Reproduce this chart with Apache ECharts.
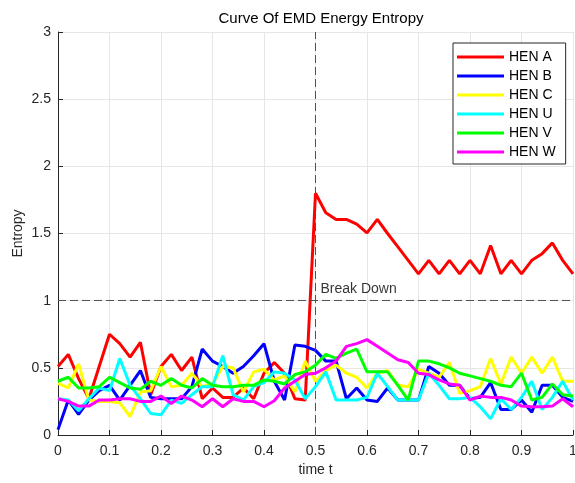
<!DOCTYPE html>
<html>
<head>
<meta charset="utf-8">
<script src="https://cdn.jsdelivr.net/npm/echarts@6/dist/echarts.min.js"></script>
<style>
  html, body { margin: 0; padding: 0; background: #fff; }
  #chart { width: 575px; height: 483px; }
</style>
</head>
<body>
<div id="chart"></div>
<script>
// Sample times: 0, 0.02, ..., 1.00 (51 samples)
const timeStep = 0.02;
const sampleCount = 51;

const henA = [0.51, 0.60, 0.42, 0.27, 0.51, 0.75, 0.68, 0.58, 0.69, 0.30, 0.51, 0.60, 0.48,
  0.58, 0.27, 0.35, 0.28, 0.28, 0.35, 0.27, 0.46, 0.54, 0.46, 0.27, 0.26,
  1.80, 1.655, 1.605, 1.605, 1.57, 1.505, 1.605, 1.50, 1.40, 1.30, 1.20, 1.30, 1.20,
  1.30, 1.20, 1.30, 1.20, 1.41, 1.20, 1.30, 1.20, 1.30, 1.35, 1.43, 1.30, 1.20];
const henB = [0.04, 0.26, 0.154, 0.26, 0.33, 0.37, 0.26, 0.37, 0.48, 0.28, 0.27, 0.27, 0.27,
  0.36, 0.64, 0.55, 0.51, 0.46, 0.51, 0.59, 0.68, 0.40, 0.26, 0.67, 0.66,
  0.63, 0.55, 0.55, 0.27, 0.35, 0.26, 0.25, 0.35, 0.26, 0.26, 0.26, 0.51, 0.46,
  0.37, 0.37, 0.27, 0.28, 0.39, 0.19, 0.19, 0.26, 0.17, 0.37, 0.37, 0.28, 0.25];
const henC = [0.385, 0.35, 0.53, 0.26, 0.25, 0.25, 0.24, 0.136, 0.32, 0.33, 0.51, 0.36, 0.37,
  0.46, 0.36, 0.38, 0.51, 0.50, 0.32, 0.47, 0.49, 0.41, 0.44, 0.32, 0.55,
  0.40, 0.48, 0.52, 0.46, 0.43, 0.35, 0.46, 0.48, 0.37, 0.36, 0.49, 0.46, 0.43,
  0.54, 0.31, 0.33, 0.36, 0.57, 0.38, 0.58, 0.46, 0.58, 0.46, 0.58, 0.40, 0.40];
const henU = [0.27, 0.26, 0.18, 0.27, 0.35, 0.33, 0.57, 0.37, 0.27, 0.16, 0.15, 0.26, 0.235,
  0.30, 0.36, 0.36, 0.59, 0.30, 0.26, 0.36, 0.39, 0.47, 0.46, 0.41, 0.27,
  0.36, 0.47, 0.26, 0.26, 0.26, 0.28, 0.46, 0.36, 0.26, 0.26, 0.26, 0.46, 0.37,
  0.27, 0.27, 0.28, 0.21, 0.12, 0.27, 0.19, 0.28, 0.40, 0.19, 0.28, 0.40, 0.26];
const henV = [0.40, 0.43, 0.35, 0.35, 0.36, 0.43, 0.39, 0.35, 0.34, 0.40, 0.37, 0.42, 0.37,
  0.35, 0.42, 0.37, 0.36, 0.36, 0.37, 0.37, 0.41, 0.40, 0.38, 0.45, 0.47,
  0.52, 0.60, 0.57, 0.61, 0.64, 0.47, 0.47, 0.47, 0.37, 0.26, 0.55, 0.55, 0.53,
  0.50, 0.46, 0.44, 0.42, 0.40, 0.37, 0.36, 0.46, 0.26, 0.28, 0.38, 0.30, 0.29];
const henW = [0.27, 0.25, 0.215, 0.215, 0.26, 0.26, 0.27, 0.27, 0.25, 0.25, 0.29, 0.235, 0.29,
  0.26, 0.21, 0.27, 0.21, 0.27, 0.25, 0.25, 0.21, 0.255, 0.35, 0.40, 0.45,
  0.46, 0.50, 0.55, 0.66, 0.68, 0.71, 0.66, 0.61, 0.56, 0.54, 0.46, 0.45, 0.41,
  0.38, 0.37, 0.26, 0.29, 0.28, 0.28, 0.26, 0.215, 0.21, 0.21, 0.215, 0.27, 0.21];

const seriesNames = ['HEN A', 'HEN B', 'HEN C', 'HEN U', 'HEN V', 'HEN W'];
const seriesValues = [henA, henB, henC, henU, henV, henW];
const seriesColors = ['#ff0000', '#0000ff', '#ffff00', '#00ffff', '#00ff00', '#ff00ff'];

const xTicks = [0, 0.1, 0.2, 0.3, 0.4, 0.5, 0.6, 0.7, 0.8, 0.9, 1];
const yTicks = [0, 0.5, 1, 1.5, 2, 2.5, 3];

const breakTime = 0.5;
const breakLevel = 1;
const breakText = 'Break Down';

const times = Array.from({ length: sampleCount }, (_, i) => +(i * timeStep).toFixed(2));

const textColor = '#262626';
const fontFamily = 'Liberation Sans, Arial, sans-serif';

const lineSeries = seriesNames.map((name, k) => ({
  name,
  type: 'line',
  data: times.map((t, i) => [t, seriesValues[k][i]]),
  showSymbol: false,
  symbol: 'none',
  lineStyle: { color: seriesColors[k], width: 3 },
  itemStyle: { color: seriesColors[k] },
  emphasis: { disabled: true },
  z: 3 + k
}));

const chart = echarts.init(document.getElementById('chart'), null, { renderer: 'canvas' });
chart.setOption({
  animation: false,
  backgroundColor: '#ffffff',
  textStyle: { fontFamily },
  title: {
    text: 'Curve Of EMD Energy Entropy',
    left: 316,
    top: 6,
    textAlign: 'center',
    textStyle: { color: '#000', fontSize: 15, fontWeight: 'normal', fontFamily }
  },
  grid: { left: 58, right: 2, top: 32, bottom: 48, containLabel: false, outerBoundsMode: 'none' },
  legend: {
    data: seriesNames,
    orient: 'vertical',
    left: 453,
    top: 43,
    icon: 'rect',
    itemWidth: 47,
    itemHeight: 3,
    itemGap: 3,
    padding: [6, 10, 4, 4],
    borderColor: textColor,
    borderWidth: 1,
    backgroundColor: '#ffffff',
    textStyle: { color: '#000', fontSize: 14, lineHeight: 16, fontFamily }
  },
  xAxis: {
    type: 'value',
    min: xTicks[0],
    max: xTicks[xTicks.length - 1],
    interval: 0.1,
    name: 'time t',
    nameLocation: 'middle',
    nameGap: 28,
    nameMoveOverlap: false,
    nameTextStyle: { color: textColor, fontSize: 14, fontFamily },
    axisLine: { show: true, onZero: false, lineStyle: { color: textColor, width: 1 } },
    axisTick: { show: true, inside: true, length: 5, lineStyle: { color: textColor } },
    axisLabel: { color: textColor, fontSize: 14, margin: 9, fontFamily,
      formatter: v => String(+v.toFixed(1)) },
    splitLine: { show: true, lineStyle: { color: '#e6e6e6', width: 1 } }
  },
  yAxis: {
    type: 'value',
    min: yTicks[0],
    max: yTicks[yTicks.length - 1],
    interval: 0.5,
    name: 'Entropy',
    nameLocation: 'middle',
    nameGap: 33,
    nameMoveOverlap: false,
    nameTextStyle: { color: textColor, fontSize: 14, fontFamily },
    axisLine: { show: true, onZero: false, lineStyle: { color: textColor, width: 1 } },
    axisTick: { show: true, inside: true, length: 5, lineStyle: { color: textColor } },
    axisLabel: { color: textColor, fontSize: 14, margin: 7, fontFamily,
      formatter: v => String(+v.toFixed(1)) },
    splitLine: { show: true, lineStyle: { color: '#e6e6e6', width: 1 } }
  },
  series: [
    ...lineSeries,
    {
      name: 'breakLines',
      type: 'line',
      data: [],
      silent: true,
      z: 10,
      markLine: {
        silent: true,
        symbol: ['none', 'none'],
        label: { show: false },
        lineStyle: { color: '#505050', width: 1, type: [8, 4] },
        data: [{ xAxis: breakTime }, { yAxis: breakLevel }]
      }
    },
    {
      name: 'breakLabel',
      type: 'scatter',
      data: [[breakTime, breakLevel]],
      symbolSize: 0,
      silent: true,
      z: 11,
      label: {
        show: true,
        formatter: breakText,
        position: [5, -19],
        color: '#000',
        fontSize: 14,
        fontFamily
      }
    }
  ]
});
</script>
</body>
</html>
